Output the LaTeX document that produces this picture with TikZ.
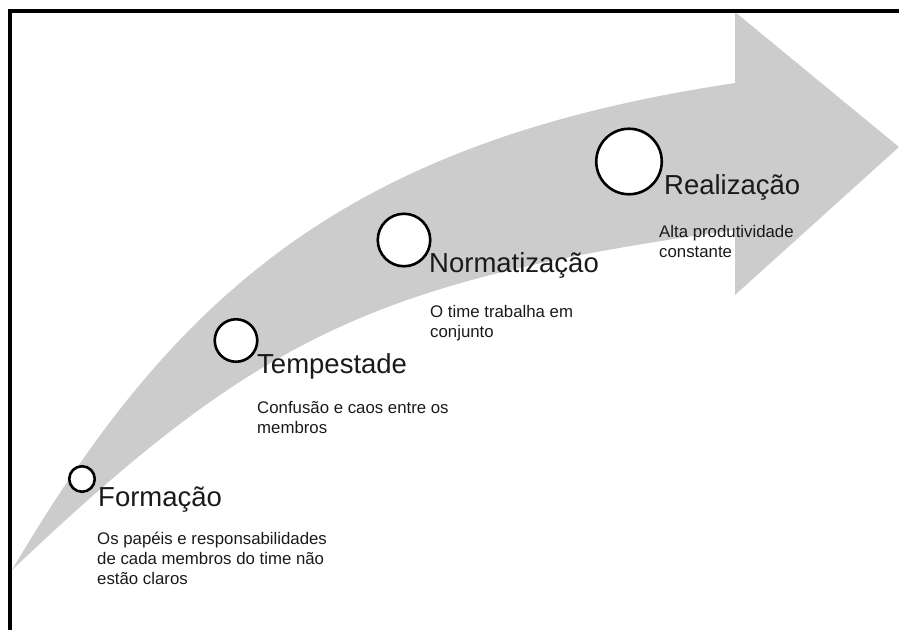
\documentclass[tikz,border=0pt]{standalone}
\usepackage{fontspec}
\setmainfont{Liberation Sans}
\definecolor{arrowgray}{HTML}{CCCCCC}
\definecolor{txt}{HTML}{1A1A1A}
\begin{document}
\begin{tikzpicture}[x=1pt,y=-1pt,
  stage/.style={circle,draw=black,fill=white,line width=2.6pt,inner sep=0pt},
  title/.style={anchor=base west,inner sep=0pt,text=txt,font=\fontsize{27.5}{33}\selectfont},
  desc/.style={anchor=base west,inner sep=0pt,align=left,text=txt,font=\fontsize{16.8}{20}\selectfont},
  frame/.style={line width=4pt,draw=black}]
\useasboundingbox (0,0) rectangle (899,630);
% big curved arrow
\fill[arrowgray] (12,570) .. controls (179,286) and (355,140) .. (735,83)
  -- (735,12) -- (899,147) -- (735,295) -- (735,230)
  .. controls (375,280.4) and (258.5,335.7) .. (12,570) -- cycle;
% frame
\draw[frame] (10.3,630) -- (10.3,11) -- (899,11);
% stage circles
\node[stage,minimum size=25.5pt] (c1) at (82,479) {};
\node[stage,minimum size=42.5pt] (c2) at (236,340.5) {};
\node[stage,minimum size=52.5pt] (c3) at (404,240) {};
\node[stage,minimum size=65.5pt] (c4) at (629,161.5) {};
% titles
\node[title] (t1) at (98,506) {Formação};
\node[title] (t2) at (257,373) {Tempestade};
\node[title] (t3) at (429,272) {Normatização};
\node[title] (t4) at (664,194) {Realização};
% descriptions (anchor = baseline of last line)
\node[desc] (d1) at (97,584) {Os papéis e responsabilidades\\de cada membros do time não\\estão claros};
\node[desc] (d2) at (257,433) {Confusão e caos entre os\\membros};
\node[desc] (d3) at (430,337) {O time trabalha em\\conjunto};
\node[desc] (d4) at (659,257) {Alta produtividade\\constante};
\end{tikzpicture}
\end{document}
